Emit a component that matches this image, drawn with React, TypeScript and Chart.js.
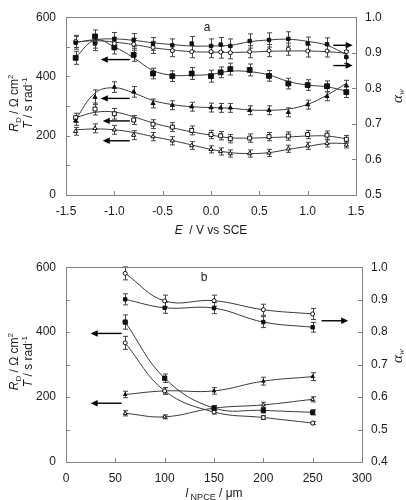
import React, { useEffect, useRef } from "react";
import { Chart, registerables } from "chart.js";
Chart.register(...registerables);

const SANS = "'Liberation Sans', Arial, Helvetica, sans-serif";
const SERIF = "'Liberation Serif', 'Times New Roman', serif";
const INK = "#1a1a1a";
const LINE = "#3a3a3a";
const BOX = "#808080";

// ---------- Panel a data ----------
const aE = [-1.4, -1.2, -1.0, -0.8, -0.6, -0.4, -0.2, 0.0, 0.1, 0.2, 0.4, 0.6, 0.8, 1.0, 1.2, 1.4];
const aAlphaFilled = [0.928, 0.926, 0.939, 0.936, 0.925, 0.921, 0.926, 0.919, 0.923, 0.919, 0.933, 0.936, 0.939, 0.926, 0.924, 0.888];
const aAlphaOpen = [0.932, 0.930, 0.926, 0.924, 0.915, 0.906, 0.903, 0.903, 0.902, 0.900, 0.903, 0.906, 0.910, 0.905, 0.905, 0.903];
const aRdSquare = [463, 535, 498, 473, 410, 401, 410, 401, 414, 425, 422, 402, 376, 371, 367, 347];
const aTriangle = [250, 330, 364, 348, 309, 303, 298, 295, 294, 294, 286, 286, 279, 305, 333, 369];
const aOpenSq = [261, 290, 274, 253, 239, 229, 218, 204, 200, 190, 192, 197, 199, 204, 202, 188];
const aDiamond = [215, 225, 220, 202, 197, 183, 167, 154, 147, 140, 140, 142, 156, 166, 174, 169];

const aErrAlphaFilled = [0.018, 0.02, 0.018, 0.018, 0.018, 0.018, 0.02, 0.02, 0.02, 0.02, 0.02, 0.02, 0.02, 0.018, 0.018, 0.018];
const aErrAlphaOpen = [0.017, 0.017, 0.017, 0.017, 0.017, 0.017, 0.017, 0.017, 0.017, 0.017, 0.017, 0.017, 0.017, 0.017, 0.017, 0.017];
const aErrSquare = [22, 22, 22, 22, 18, 18, 20, 20, 18, 20, 20, 18, 18, 18, 18, 18];
const aErrTriangle = [15, 25, 18, 18, 15, 15, 15, 15, 15, 15, 15, 15, 15, 15, 15, 18];
const aErrOpenSq = [15, 20, 18, 15, 15, 15, 15, 14, 14, 14, 14, 14, 14, 14, 14, 13];
const aErrDiamond = [13, 15, 15, 15, 14, 14, 13, 12, 12, 12, 12, 12, 12, 12, 12, 10];

// smooth trend curves
const aFitE = [-1.4, -1.2, -1.0, -0.8, -0.6, -0.4, -0.2, 0.0, 0.2, 0.4, 0.6, 0.8, 1.0, 1.2, 1.4];
const aFitAlphaFilled = [0.929, 0.937, 0.939, 0.935, 0.928, 0.923, 0.919, 0.919, 0.921, 0.931, 0.936, 0.938, 0.932, 0.921, 0.895];
const aFitAlphaOpen = [0.930, 0.934, 0.930, 0.923, 0.914, 0.908, 0.903, 0.902, 0.901, 0.902, 0.904, 0.905, 0.905, 0.903, 0.899];
const aFitSquare = [465, 523, 500, 463, 420, 404, 404, 407, 418, 416, 405, 383, 371, 365, 351];
const aFitTriangle = [255, 344, 362, 344, 319, 305, 298, 295, 293, 287, 286, 290, 306, 337, 377];
const aFitOpenSq = [261, 279, 280, 264, 243, 227, 213, 202, 193, 192, 194, 196, 199, 199, 190];
const aFitDiamond = [220, 223, 220, 211, 197, 184, 169, 154, 143, 140, 143, 154, 164, 174, 174];

const aLeftTicks = [0, 100, 200, 300, 400, 500, 600];
const aRightTicks = [0.5, 0.6, 0.7, 0.8, 0.9, 1.0];
const aBottomTicks = [-1.5, -1.0, -0.5, 0.0, 0.5, 1.0, 1.5];

// ---------- Panel b data ----------
const bL = [60, 100, 150, 200, 250];
const bAlphaOpen = [0.981, 0.896, 0.897, 0.869, 0.856];
const bAlphaFilled = [0.901, 0.875, 0.874, 0.831, 0.815];
const bRdSquare = [431, 258, 166, 159, 153];
const bRdOpen = [367, 219, 154, 137, 120];
const bTFilled = [208, 219, 219, 249, 263];
const bTOpen = [150, 139, 166, 176, 193];

const bErrAlphaOpen = [0.02, 0.018, 0.017, 0.017, 0.017];
const bErrAlphaFilled = [0.017, 0.017, 0.017, 0.017, 0.015];
const bErrSquare = [22, 13, 8, 8, 8];
const bErrOpen = [20, 10, 6, 6, 5];
const bErrTFilled = [10, 10, 10, 12, 12];
const bErrTOpen = [8, 6, 6, 8, 8];

const bLeftTicks = [0, 100, 200, 300, 400, 500, 600];
const bRightTicks = [0.4, 0.5, 0.6, 0.7, 0.8, 0.9, 1.0];
const bBottomTicks = [0, 50, 100, 150, 200, 250, 300];

type Part = { t: string; font: string; dy?: number };

function drawRich(ctx: CanvasRenderingContext2D, parts: Part[], cx: number, cy: number, rot: number) {
  ctx.save();
  ctx.translate(cx, cy);
  ctx.rotate(rot);
  ctx.textBaseline = "alphabetic";
  ctx.textAlign = "left";
  ctx.fillStyle = INK;
  let total = 0;
  const widths = parts.map((p) => {
    ctx.font = p.font;
    const w = ctx.measureText(p.t).width;
    total += w;
    return w;
  });
  let x = -total / 2;
  parts.forEach((p, i) => {
    ctx.font = p.font;
    ctx.fillText(p.t, x, (p.dy || 0) + 4);
    x += widths[i];
  });
  ctx.restore();
}

function drawArrow(ctx: CanvasRenderingContext2D, x1: number, y1: number, x2: number, y2: number) {
  const dir = Math.sign(x2 - x1);
  const head = 7;
  ctx.save();
  ctx.strokeStyle = "#000";
  ctx.fillStyle = "#000";
  ctx.lineWidth = 1.4;
  ctx.beginPath();
  ctx.moveTo(x1, y1);
  ctx.lineTo(x2 - dir * head * 0.8, y2);
  ctx.stroke();
  ctx.beginPath();
  ctx.moveTo(x2, y2);
  ctx.lineTo(x2 - dir * head, y2 - 3.2);
  ctx.lineTo(x2 - dir * head, y2 + 3.2);
  ctx.closePath();
  ctx.fill();
  ctx.restore();
}

type Arrow = { from: number; to: number; y: number; axis: string };

type PanelCfg = {
  leftTicks: number[];
  rightTicks: number[];
  bottomTicks: number[];
  arrows: Arrow[];
  label: { text: string; x: number; y: number };
  xTitle: Part[];
  xTitleY: number;
  alphaY: number;
};

const R12 = `12px ${SANS}`;
const I12 = `italic 12px ${SANS}`;
const S8 = `8px ${SANS}`;

function makePlugin(cfg: PanelCfg) {
  return {
    id: "extras",
    beforeDatasetsDraw(chart: any) {
      const ctx: CanvasRenderingContext2D = chart.ctx;
      ctx.save();
      ctx.strokeStyle = "#444";
      ctx.lineWidth = 1;
      chart.data.datasets.forEach((ds: any, di: number) => {
        if (!ds.errors) return;
        const meta = chart.getDatasetMeta(di);
        const ys = chart.scales[ds.yAxisID];
        ds.data.forEach((p: any, i: number) => {
          const el = meta.data[i];
          const e = ds.errors[i];
          const top = ys.getPixelForValue(p.y + e);
          const bot = ys.getPixelForValue(p.y - e);
          const x = Math.round(el.x) + 0.5;
          ctx.beginPath();
          ctx.moveTo(x, top);
          ctx.lineTo(x, bot);
          ctx.moveTo(x - 2.5, top);
          ctx.lineTo(x + 2.5, top);
          ctx.moveTo(x - 2.5, bot);
          ctx.lineTo(x + 2.5, bot);
          ctx.stroke();
        });
      });
      ctx.restore();
    },
    afterDraw(chart: any) {
      const ctx: CanvasRenderingContext2D = chart.ctx;
      const a = chart.chartArea;
      const sx = chart.scales.x;
      const sy = chart.scales.y;
      const sy1 = chart.scales.y1;
      ctx.save();
      ctx.strokeStyle = BOX;
      ctx.lineWidth = 1;
      ctx.strokeRect(Math.round(a.left) + 0.5, Math.round(a.top) + 0.5, Math.round(a.right - a.left), Math.round(a.bottom - a.top));
      ctx.beginPath();
      cfg.leftTicks.forEach((v) => {
        const y = Math.round(sy.getPixelForValue(v)) + 0.5;
        ctx.moveTo(a.left, y);
        ctx.lineTo(a.left + 4, y);
      });
      cfg.rightTicks.forEach((v) => {
        const y = Math.round(sy1.getPixelForValue(v)) + 0.5;
        ctx.moveTo(a.right, y);
        ctx.lineTo(a.right - 4, y);
      });
      cfg.bottomTicks.forEach((v) => {
        const x = Math.round(sx.getPixelForValue(v)) + 0.5;
        ctx.moveTo(x, a.bottom);
        ctx.lineTo(x, a.bottom - 4);
      });
      ctx.stroke();
      ctx.restore();

      cfg.arrows.forEach((ar) => {
        const ys = chart.scales[ar.axis];
        const y = ys.getPixelForValue(ar.y);
        drawArrow(ctx, sx.getPixelForValue(ar.from), y, sx.getPixelForValue(ar.to), y);
      });

      // panel label
      drawRich(ctx, [{ t: cfg.label.text, font: R12 }], sx.getPixelForValue(cfg.label.x), sy.getPixelForValue(cfg.label.y), 0);

      // left axis titles
      const midY = (a.top + a.bottom) / 2 - 3;
      drawRich(
        ctx,
        [
          { t: "R", font: I12 },
          { t: "D", font: S8, dy: 3 },
          { t: " / Ω cm", font: R12 },
          { t: "2", font: S8, dy: -5 },
        ],
        14,
        midY,
        -Math.PI / 2
      );
      drawRich(
        ctx,
        [
          { t: "T", font: I12 },
          { t: " / s rad", font: R12 },
          { t: "-1", font: S8, dy: -5 },
        ],
        28,
        midY,
        -Math.PI / 2
      );
      // right axis title
      drawRich(
        ctx,
        [
          { t: "α", font: `italic 15px ${SERIF}` },
          { t: "w", font: `italic 9px ${SERIF}`, dy: 2 },
        ],
        398,
        cfg.alphaY,
        -Math.PI / 2
      );
      // x title
      drawRich(ctx, cfg.xTitle, (a.left + a.right) / 2, cfg.xTitleY, 0);
    },
  };
}

function pts(xs: number[], ys: number[]) {
  return xs.map((x, i) => ({ x, y: ys[i] }));
}

function markerDs(xs: number[], ys: number[], errs: number[], axis: string, style: string, radius: number, filled: boolean, line: boolean) {
  return {
    data: pts(xs, ys),
    errors: errs,
    yAxisID: axis,
    showLine: line,
    borderColor: LINE,
    borderWidth: 1,
    tension: 0.4,
    pointStyle: style,
    pointRadius: radius,
    pointBorderWidth: 1,
    pointBorderColor: "#111",
    pointBackgroundColor: filled ? "#111" : "#fff",
    order: 0,
  };
}

function curveDs(xs: number[], ys: number[], axis: string) {
  return {
    data: pts(xs, ys),
    yAxisID: axis,
    showLine: true,
    borderColor: LINE,
    borderWidth: 1,
    tension: 0.4,
    pointRadius: 0,
    order: 1,
  };
}

function baseOptions(o: {
  xMin: number; xMax: number; xStep: number; xDec: number;
  yMax: number; rMin: number; rMax: number;
  padTop: number; leftW: number; rightW: number; bottomH: number;
}) {
  const tickFont = { family: SANS, size: 12 };
  return {
    responsive: false,
    animation: false as const,
    devicePixelRatio: 1,
    layout: { padding: { top: o.padTop, left: 0, right: 0, bottom: 0 } },
    plugins: { legend: { display: false }, tooltip: { enabled: false } },
    scales: {
      x: {
        type: "linear" as const,
        position: "bottom" as const,
        min: o.xMin,
        max: o.xMax,
        grid: { display: false, drawTicks: false },
        border: { display: false },
        ticks: {
          stepSize: o.xStep,
          padding: 9,
          color: INK,
          font: tickFont,
          maxRotation: 0,
          autoSkip: false,
          callback: (v: any) => Number(v).toFixed(o.xDec),
        },
        afterFit: (s: any) => { s.height = o.bottomH; },
      },
      y: {
        type: "linear" as const,
        position: "left" as const,
        min: 0,
        max: o.yMax,
        grid: { display: false, drawTicks: false },
        border: { display: false },
        ticks: { stepSize: 200, padding: 10, color: INK, font: tickFont },
        afterFit: (s: any) => { s.width = o.leftW; },
      },
      y1: {
        type: "linear" as const,
        position: "right" as const,
        min: o.rMin,
        max: o.rMax,
        grid: { display: false, drawTicks: false },
        border: { display: false },
        ticks: { stepSize: 0.1, padding: 9, color: INK, font: tickFont, callback: (v: any) => Number(v).toFixed(1) },
        afterFit: (s: any) => { s.width = o.rightW; },
      },
    },
  };
}

function PanelA() {
  const ref = useRef<HTMLCanvasElement>(null);
  useEffect(() => {
    if (!ref.current) return;
    const cfg: PanelCfg = {
      leftTicks: aLeftTicks,
      rightTicks: aRightTicks,
      bottomTicks: aBottomTicks,
      arrows: [
        { from: -0.84, to: -1.14, y: 457, axis: "y" },
        { from: -0.84, to: -1.14, y: 326, axis: "y" },
        { from: -0.84, to: -1.12, y: 250, axis: "y" },
        { from: -0.84, to: -1.12, y: 183, axis: "y" },
        { from: 1.265, to: 1.466, y: 0.921, axis: "y1" },
        { from: 1.265, to: 1.466, y: 0.864, axis: "y1" },
      ],
      label: { text: "a", x: -0.04, y: 568 },
      xTitle: [
        { t: "E", font: I12 },
        { t: "  / V vs SCE", font: R12 },
      ],
      xTitleY: 230,
      alphaY: 96,
    };
    const chart = new Chart(ref.current, {
      type: "line",
      data: {
        datasets: [
          markerDs(aE, aAlphaFilled, aErrAlphaFilled, "y1", "rect", 2.4, true, false),
          markerDs(aE, aAlphaOpen, aErrAlphaOpen, "y1", "circle", 2, false, false),
          markerDs(aE, aRdSquare, aErrSquare, "y", "rect", 3.4, true, false),
          markerDs(aE, aTriangle, aErrTriangle, "y", "triangle", 2.4, true, false),
          markerDs(aE, aOpenSq, aErrOpenSq, "y", "rect", 2.8, false, false),
          markerDs(aE, aDiamond, aErrDiamond, "y", "triangle", 2.4, false, false),
          curveDs(aFitE, aFitAlphaFilled, "y1"),
          curveDs(aFitE, aFitAlphaOpen, "y1"),
          curveDs(aFitE, aFitSquare, "y"),
          curveDs(aFitE, aFitTriangle, "y"),
          curveDs(aFitE, aFitOpenSq, "y"),
          curveDs(aFitE, aFitDiamond, "y"),
        ] as any,
      },
      options: baseOptions({
        xMin: -1.5, xMax: 1.5, xStep: 0.5, xDec: 1,
        yMax: 600, rMin: 0.5, rMax: 1.0,
        padTop: 7, leftW: 66, rightW: 50, bottomH: 55,
      }) as any,
      plugins: [makePlugin(cfg)],
    });
    return () => chart.destroy();
  }, []);
  return <canvas ref={ref} width={406} height={250} style={{ display: "block" }} />;
}

function PanelB() {
  const ref = useRef<HTMLCanvasElement>(null);
  useEffect(() => {
    if (!ref.current) return;
    const cfg: PanelCfg = {
      leftTicks: bLeftTicks,
      rightTicks: bRightTicks,
      bottomTicks: bBottomTicks,
      arrows: [
        { from: 56.4, to: 25, y: 396, axis: "y" },
        { from: 56.4, to: 25, y: 181, axis: "y" },
        { from: 259, to: 286, y: 0.835, axis: "y1" },
      ],
      label: { text: "b", x: 140, y: 571 },
      xTitle: [
        { t: "l", font: I12 },
        { t: " NPCE", font: `9px ${SANS}`, dy: 3 },
        { t: " / μm", font: R12 },
      ],
      xTitleY: 243,
      alphaY: 106,
    };
    const chart = new Chart(ref.current, {
      type: "line",
      data: {
        datasets: [
          markerDs(bL, bAlphaOpen, bErrAlphaOpen, "y1", "circle", 2, false, true),
          markerDs(bL, bAlphaFilled, bErrAlphaFilled, "y1", "rect", 2.4, true, true),
          markerDs(bL, bRdSquare, bErrSquare, "y", "rect", 3, true, true),
          markerDs(bL, bRdOpen, bErrOpen, "y", "circle", 2, false, true),
          markerDs(bL, bTFilled, bErrTFilled, "y", "triangle", 2, true, true),
          markerDs(bL, bTOpen, bErrTOpen, "y", "triangle", 2.2, false, true),
        ] as any,
      },
      options: baseOptions({
        xMin: 0, xMax: 300, xStep: 50, xDec: 0,
        yMax: 600, rMin: 0.4, rMax: 1.0,
        padTop: 6, leftW: 66, rightW: 44, bottomH: 38,
      }) as any,
      plugins: [makePlugin(cfg)],
    });
    return () => chart.destroy();
  }, []);
  return <canvas ref={ref} width={406} height={250} style={{ display: "block" }} />;
}

export default function App() {
  return (
    <div style={{ position: "absolute", left: 0, top: 0, width: 406, height: 500, background: "#fff" }}>
      <PanelA />
      <PanelB />
    </div>
  );
}
